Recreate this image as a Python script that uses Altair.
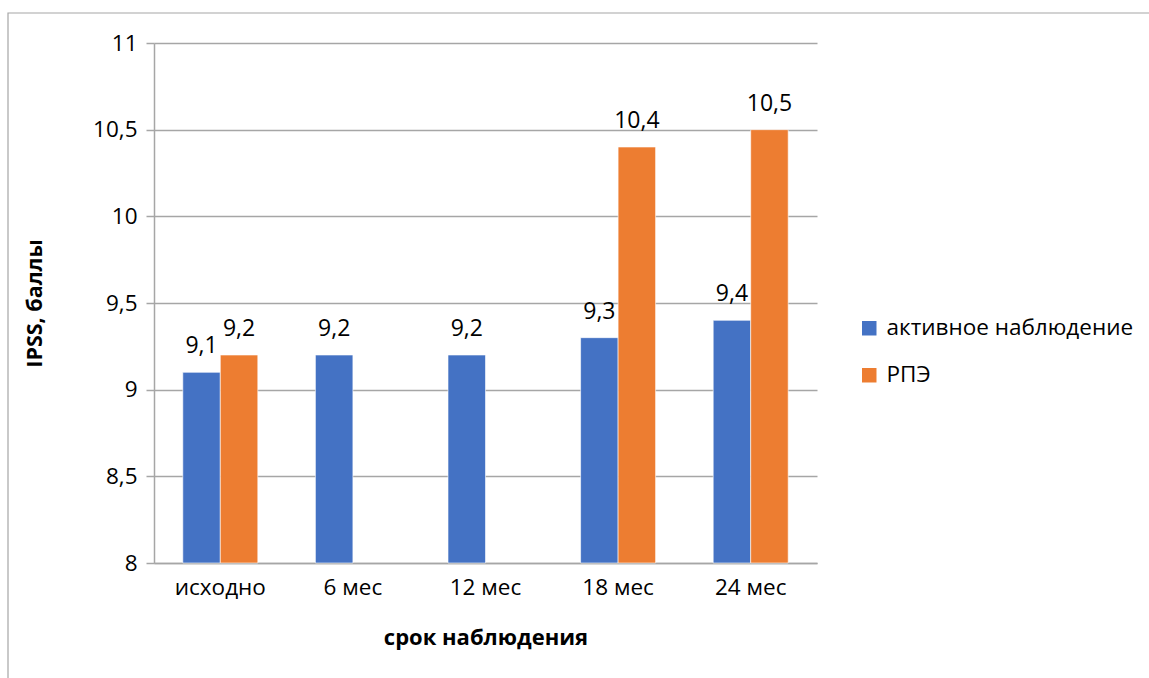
import altair as alt
import pandas as pd

# Observation periods and the two patient groups
periods = ["исходно", "6 мес", "12 мес", "18 мес", "24 мес"]
series = ["активное наблюдение", "РПЭ"]
active_values = [9.1, 9.2, 9.2, 9.3, 9.4]
rpe_values = [9.2, None, None, 10.4, 10.5]
y_ticks = [8, 8.5, 9, 9.5, 10, 10.5, 11]
colors = ["#4472C4", "#ED7D31"]

rows = []
for p, a, r in zip(periods, active_values, rpe_values):
    if a is not None:
        rows.append({"period": p, "group": series[0], "value": a})
    if r is not None:
        rows.append({"period": p, "group": series[1], "value": r})
df = pd.DataFrame(rows)

FONT = "Open Sans"
GRID = "#A6A6A6"

x_enc = alt.X(
    "period:N",
    sort=periods,
    scale=alt.Scale(paddingInner=0.4344, paddingOuter=0.2172),
    axis=alt.Axis(
        title="срок наблюдения",
        titleFont=FONT,
        titleFontSize=22,
        titleFontWeight="bold",
        titleColor="#000000",
        titleBaseline="middle",
        titleY=74,
        labelFont=FONT,
        labelFontSize=22.5,
        labelColor="#000000",
        labelPadding=13,
        labelAngle=0,
        ticks=False,
        domainColor=GRID,
        domainWidth=1.5,
    ),
)
xoff_enc = alt.XOffset(
    "group:N",
    sort=series,
    scale=alt.Scale(domain=series, paddingInner=0, paddingOuter=0),
)
y_scale = alt.Scale(domain=[8, 11], nice=False, zero=False)

bars = alt.Chart(df).mark_bar(stroke="#FFFFFF", strokeWidth=0.6).encode(
    x=x_enc,
    xOffset=xoff_enc,
    y=alt.Y(
        "value:Q",
        scale=y_scale,
        axis=alt.Axis(
            values=y_ticks,
            labelExpr="replace(format(datum.value, '~g'), '.', ',')",
            title="IPSS, баллы",
            titleFont=FONT,
            titleFontSize=21.5,
            titleFontWeight="bold",
            titleColor="#000000",
            titleX=-119,
            titleBaseline="middle",
            labelFont=FONT,
            labelFontSize=22.5,
            labelColor="#000000",
            labelPadding=9,
            tickSize=8,
            tickColor=GRID,
            tickWidth=1.5,
            domainColor=GRID,
            domainWidth=1.5,
            gridColor=GRID,
            gridWidth=1.5,
        ),
    ),
    y2=alt.datum(8),
    color=alt.Color(
        "group:N",
        sort=series,
        scale=alt.Scale(domain=series, range=colors),
        legend=alt.Legend(
            title=None,
            orient="none",
            legendX=704,
            legendY=274,
            symbolType="square",
            symbolSize=210,
            symbolStrokeWidth=0,
            symbolOpacity=1,
            labelFont=FONT,
            labelFontSize=22.5,
            labelColor="#000000",
            labelOffset=6,
            labelLimit=0,
            rowPadding=24,
        ),
    ),
)

labels = alt.Chart(df).transform_calculate(
    txt="replace(format(datum.value, '.1f'), '.', ',')"
).mark_text(
    font=FONT, fontSize=23, color="#000000", baseline="alphabetic", dy=-19
).encode(
    x=alt.X("period:N", sort=periods),
    xOffset=xoff_enc,
    y=alt.Y("value:Q", scale=y_scale),
    text="txt:N",
)

frame = alt.Chart(pd.DataFrame({"f": [0]})).mark_rect(
    fill=None, stroke="#A6A6A6", strokeWidth=1.2
).encode(
    x=alt.value(-146), x2=alt.value(1100), y=alt.value(-30), y2=alt.value(700)
)

chart = (
    alt.layer(frame, bars, labels)
    .properties(
        width=663,
        height=520,
        padding={"left": 154, "top": 43, "right": 332, "bottom": 115},
        autosize=alt.AutoSizeParams(type="none"),
        background="#FFFFFF",
    )
    .configure_view(stroke=None)
)

chart.save("out.html", embed_options={"renderer": "svg", "actions": False})
